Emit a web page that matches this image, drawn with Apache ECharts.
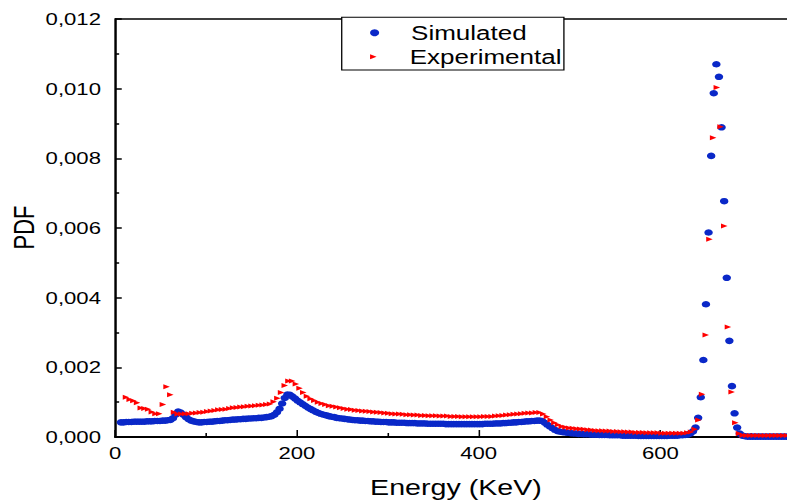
<!DOCTYPE html>
<html>
<head>
<meta charset="utf-8">
<script src="https://cdn.jsdelivr.net/npm/echarts@6.0.0/dist/echarts.min.js"></script>
<style>
  html, body { margin: 0; padding: 0; background: #fff; overflow: hidden; }
  /* the source figure is stretched horizontally, so the chart is drawn narrow and widened */
  #main { width: 605px; height: 503px; transform: scaleX(1.30083); transform-origin: 0 0; }
</style>
</head>
<body>
<div id="main"></div>
<script>
// energy bins (keV): first bin centre and bin width of each spectrum
const simStart = 6.3, simStep = 2.862;
const expStart = 11.8, expStep = 4.065;

// Simulated PDF, one value per bin
const simulated = [
  0.00042, 0.00042, 0.00043, 0.00043, 0.00043, 0.00044, 0.00044, 0.00044, 0.00044, 0.00044,
  0.00045, 0.00045, 0.00045, 0.00046, 0.00046, 0.00046, 0.00047, 0.00047, 0.00048, 0.00049,
  0.00054, 0.00064, 0.00073, 0.00070, 0.00064, 0.00057, 0.00051, 0.00047, 0.00045, 0.00043,
  0.00042, 0.00042, 0.00043, 0.00043, 0.00044, 0.00044, 0.00045, 0.00046, 0.00046, 0.00047,
  0.00048, 0.00048, 0.00049, 0.00050, 0.00050, 0.00051, 0.00051, 0.00052, 0.00052, 0.00053,
  0.00053, 0.00054, 0.00054, 0.00055, 0.00055, 0.00056, 0.00057, 0.00058, 0.00060, 0.00064,
  0.00071, 0.00081, 0.00096, 0.00112, 0.00122, 0.00121, 0.00116, 0.00110, 0.00104, 0.00099,
  0.00094, 0.00089, 0.00084, 0.00080, 0.00076, 0.00072, 0.00069, 0.00066, 0.00064, 0.00062,
  0.00060, 0.00058, 0.00057, 0.00055, 0.00054, 0.00053, 0.00052, 0.00051, 0.00050, 0.00049,
  0.00048, 0.00048, 0.00047, 0.00047, 0.00046, 0.00046, 0.00045, 0.00045, 0.00044, 0.00044,
  0.00043, 0.00043, 0.00043, 0.00042, 0.00042, 0.00042, 0.00041, 0.00041, 0.00041, 0.00041,
  0.00040, 0.00040, 0.00040, 0.00040, 0.00039, 0.00039, 0.00039, 0.00039, 0.00038, 0.00038,
  0.00038, 0.00038, 0.00038, 0.00038, 0.00038, 0.00037, 0.00037, 0.00037, 0.00037, 0.00037,
  0.00037, 0.00037, 0.00037, 0.00037, 0.00037, 0.00037, 0.00037, 0.00037, 0.00037, 0.00037,
  0.00038, 0.00038, 0.00038, 0.00038, 0.00039, 0.00039, 0.00039, 0.00040, 0.00040, 0.00041,
  0.00041, 0.00042, 0.00042, 0.00043, 0.00043, 0.00044, 0.00045, 0.00045, 0.00046, 0.00046,
  0.00047, 0.00047, 0.00046, 0.00041, 0.00035, 0.00030, 0.00025, 0.00020, 0.00017, 0.00015,
  0.00014, 0.00013, 0.00012, 0.00011, 0.00010, 0.00010, 0.00009, 0.00009, 0.00008, 0.00008,
  0.00008, 0.00007, 0.00007, 0.00007, 0.00006, 0.00006, 0.00006, 0.00006, 0.00005, 0.00005,
  0.00005, 0.00005, 0.00005, 0.00004, 0.00004, 0.00004, 0.00004, 0.00004, 0.00004, 0.00003,
  0.00003, 0.00003, 0.00003, 0.00003, 0.00003, 0.00003, 0.00003, 0.00003, 0.00003, 0.00003,
  0.00003, 0.00004, 0.00004, 0.00004, 0.00004, 0.00005, 0.00005, 0.00006, 0.00007, 0.00010,
  0.00016, 0.00027, 0.00055, 0.00114, 0.00221, 0.00381, 0.00587, 0.00807, 0.00987, 0.01070,
  0.01034, 0.00889, 0.00677, 0.00457, 0.00276, 0.00146, 0.00068, 0.00027, 0.00010, 0.00004,
  0.00002, 0.00001, 0.00001, 0.00001, 0.00001, 0.00001, 0.00001, 0.00001, 0.00001, 0.00001,
  0.00001, 0.00001, 0.00001, 0.00001, 0.00001, 0.00001, 0.00001, 0.00001, 0.00001
];

// Experimental PDF, one value per bin
const experimental = [
  0.00114, 0.00108, 0.00104, 0.00098, 0.00083, 0.00082, 0.00080, 0.00072, 0.00067, 0.00067,
  0.00093, 0.00144, 0.00121, 0.00071, 0.00066, 0.00066, 0.00067, 0.00067, 0.00068, 0.00069,
  0.00070, 0.00071, 0.00073, 0.00075, 0.00076, 0.00078, 0.00079, 0.00080, 0.00082, 0.00084,
  0.00085, 0.00086, 0.00087, 0.00088, 0.00089, 0.00090, 0.00091, 0.00092, 0.00093, 0.00095,
  0.00101, 0.00111, 0.00128, 0.00148, 0.00161, 0.00161, 0.00152, 0.00140, 0.00128, 0.00117,
  0.00110, 0.00105, 0.00100, 0.00096, 0.00093, 0.00090, 0.00088, 0.00086, 0.00084, 0.00082,
  0.00080, 0.00079, 0.00077, 0.00076, 0.00075, 0.00074, 0.00073, 0.00072, 0.00071, 0.00070,
  0.00069, 0.00068, 0.00067, 0.00066, 0.00066, 0.00065, 0.00064, 0.00064, 0.00063, 0.00063,
  0.00062, 0.00062, 0.00061, 0.00061, 0.00061, 0.00060, 0.00060, 0.00060, 0.00059, 0.00059,
  0.00059, 0.00058, 0.00058, 0.00058, 0.00058, 0.00058, 0.00058, 0.00059, 0.00059, 0.00059,
  0.00060, 0.00061, 0.00062, 0.00063, 0.00064, 0.00065, 0.00066, 0.00067, 0.00068, 0.00069,
  0.00069, 0.00070, 0.00070, 0.00066, 0.00058, 0.00049, 0.00041, 0.00035, 0.00030, 0.00028,
  0.00026, 0.00025, 0.00024, 0.00023, 0.00022, 0.00021, 0.00020, 0.00019, 0.00018, 0.00018,
  0.00017, 0.00017, 0.00016, 0.00016, 0.00015, 0.00015, 0.00014, 0.00014, 0.00013, 0.00013,
  0.00013, 0.00012, 0.00012, 0.00012, 0.00012, 0.00011, 0.00011, 0.00011, 0.00011, 0.00011,
  0.00011, 0.00011, 0.00012, 0.00014, 0.00022, 0.00049, 0.00123, 0.00293, 0.00568, 0.00859,
  0.01003, 0.00891, 0.00606, 0.00316, 0.00129, 0.00041, 0.00010, 0.00005, 0.00004, 0.00004,
  0.00004, 0.00004, 0.00004, 0.00004, 0.00004, 0.00004, 0.00004, 0.00004, 0.00004, 0.00004,
  0.00004, 0.00004
];

// axis ticks
const xTicks = { min: 0, max: 800, interval: 200 };
const yTicks = { min: 0, max: 0.012, interval: 0.002 };

const seriesNames = ['Simulated', 'Experimental'];

const FONT = '"Liberation Sans", Arial, Helvetica, sans-serif';

const simData = simulated.map((v, i) => [simStart + simStep * i, v]);
const expData = experimental.map((v, i) => [expStart + expStep * i, v]);

const chart = echarts.init(document.getElementById('main'), null, { renderer: 'svg' });

// one legend per row so each marker keeps its own size; the frame is a graphic rect
const legendBase = {
  orient: 'vertical',
  left: 284.5,
  padding: 0,
  itemWidth: 46,
  itemGap: 0,
  symbolRotate: 0,
  textStyle: { fontSize: 20, lineHeight: 20, color: '#000', fontFamily: FONT }
};

const option = {
  animation: false,
  backgroundColor: '#fff',
  textStyle: { fontFamily: FONT, color: '#000' },
  grid: {
    left: 88.6,
    top: 19,
    width: 558.7,
    height: 418,
    show: true,
    borderColor: '#000',
    borderWidth: 1.3,
    containLabel: false,
    outerBoundsMode: 'none'
  },
  legend: [
    Object.assign({}, legendBase, {
      top: 22.7,
      itemHeight: 7,
      data: [{ name: seriesNames[0], icon: 'circle' }]
    }),
    Object.assign({}, legendBase, {
      top: 46.7,
      itemHeight: 5,
      data: [{ name: seriesNames[1], icon: 'path://M0,0L10,5L0,10Z' }]
    })
  ],
  xAxis: {
    type: 'value',
    min: xTicks.min,
    max: xTicks.max,
    interval: xTicks.interval,
    axisLine: { show: true, onZero: false, lineStyle: { color: '#000', width: 2 } },
    axisTick: { show: true, inside: true, length: 7, lineStyle: { color: '#000', width: 1.2 } },
    minorTick: { show: true, splitNumber: 2, length: 4, lineStyle: { color: '#000', width: 1.2 } },
    splitLine: { show: false },
    axisLabel: { fontSize: 17, color: '#000', fontFamily: FONT, margin: 7, showMaxLabel: false }
  },
  yAxis: {
    type: 'value',
    min: yTicks.min,
    max: yTicks.max,
    interval: yTicks.interval,
    axisLine: { show: true, onZero: false, lineStyle: { color: '#000', width: 1.5 } },
    axisTick: { show: true, inside: true, length: 5, lineStyle: { color: '#000', width: 1.5 } },
    minorTick: { show: true, splitNumber: 2, length: 3, lineStyle: { color: '#000', width: 1.5 } },
    splitLine: { show: false },
    axisLabel: {
      fontSize: 17, color: '#000', fontFamily: FONT, margin: 11,
      formatter: v => v.toFixed(3).replace('.', ',')
    }
  },
  graphic: [
    {
      type: 'rect', z: 0,
      shape: { x: 262.7, y: 17.3, width: 170.8, height: 52.7 },
      style: { fill: '#fff', stroke: '#000', lineWidth: 1 }
    },
    {
      type: 'text', x: 350.5, y: 487.5,
      style: { text: 'Energy (KeV)', fontSize: 22, fontFamily: FONT, fill: '#000', align: 'center', verticalAlign: 'middle' }
    },
    {
      type: 'text', x: 18.3, y: 227.5, rotation: Math.PI / 2,
      style: { text: 'PDF', fontSize: 22, fontFamily: FONT, fill: '#000', align: 'center', verticalAlign: 'middle' }
    }
  ],
  series: [
    {
      name: seriesNames[0],
      type: 'scatter',
      data: simData,
      symbol: 'circle',
      symbolSize: 6.5,
      itemStyle: { color: '#0a28c8', opacity: 1 },
      z: 2
    },
    {
      name: seriesNames[1],
      type: 'scatter',
      data: expData,
      symbol: 'triangle',
      symbolSize: [5, 5],
      symbolRotate: -90,
      itemStyle: { color: '#ff0000', opacity: 1 },
      z: 3
    }
  ]
};

chart.setOption(option);
</script>
</body>
</html>
